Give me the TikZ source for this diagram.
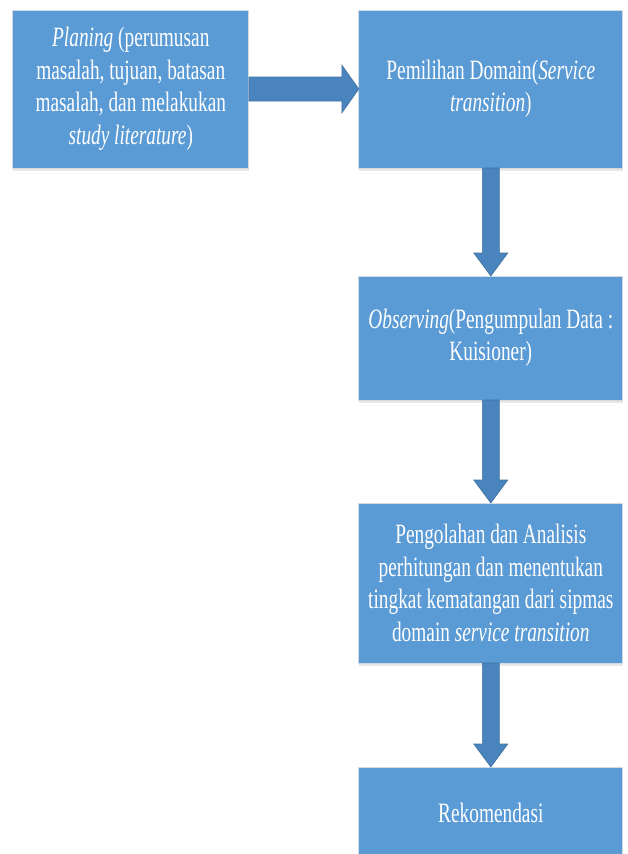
\documentclass[tikz,border=0pt]{standalone}
\usepackage{fontspec}
\setmainfont{Liberation Serif}[FakeStretch=0.69]
\usetikzlibrary{positioning,calc,shadows}
\definecolor{BoxBlue}{HTML}{5B9BD5}
\definecolor{BoxEdge}{HTML}{D2DAE2}
\definecolor{ArrowBlue}{HTML}{4A84BE}
\definecolor{ArrowEdge}{HTML}{41719C}
\tikzset{
  stepbox/.style={draw=BoxEdge,line width=1pt,fill=BoxBlue,text=white,align=center,
              minimum width=264pt,inner sep=4pt,outer sep=0pt,
              font=\fontsize{28}{32.5}\selectfont,
              drop shadow={opacity=0.18,shadow xshift=0pt,shadow yshift=-2.5pt}},
  fatarrow/.style n args={3}{draw=ArrowEdge,fill=ArrowBlue,line width=0.6pt,
    to path={($(\tikztostart)!#1!90:(\tikztotarget)$)
      -- ($($(\tikztotarget)!#3!(\tikztostart)$)!#1!90:(\tikztotarget)$)
      -- ($($(\tikztotarget)!#3!(\tikztostart)$)!#2!90:(\tikztotarget)$)
      -- (\tikztotarget)
      -- ($($(\tikztotarget)!#3!(\tikztostart)$)!#2!-90:(\tikztotarget)$)
      -- ($($(\tikztotarget)!#3!(\tikztostart)$)!#1!-90:(\tikztotarget)$)
      -- ($(\tikztostart)!#1!-90:(\tikztotarget)$) -- cycle}}
}

\begin{document}
\begin{tikzpicture}
  \useasboundingbox (0,0) rectangle (627pt,-854pt);

  \node[stepbox,anchor=north west,minimum width=236pt,minimum height=158pt] (plan) at (12.8pt,-10pt)
    {\textit{Planing} (perumusan\\masalah, tujuan, batasan\\masalah, dan melakukan\\\textit{study literature})};
  \node[stepbox,right=110pt of plan,minimum height=158pt] (domain)
    {Pemilihan Domain(\textit{Service}\\\textit{transition})};
  \node[stepbox,below=108pt of domain,minimum height=124pt] (observe)
    {\textit{Observing}(Pengumpulan Data :\\Kuisioner)};
  \node[stepbox,below=103pt of observe,minimum height=160pt] (analisis)
    {Pengolahan dan Analisis\\perhitungan dan menentukan\\tingkat kematangan dari sipmas\\domain \textit{service transition}};
  \node[stepbox,below=104pt of analisis,minimum height=92pt] (rekom) {Rekomendasi};

  \draw[fatarrow={12pt}{24pt}{17pt}] (plan.east) to (domain.west);
  \draw[fatarrow={8.5pt}{17pt}{23pt}] (domain.south) to (observe.north);
  \draw[fatarrow={8.5pt}{17pt}{23pt}] (observe.south) to (analisis.north);
  \draw[fatarrow={8.5pt}{17pt}{23pt}] (analisis.south) to (rekom.north);
\end{tikzpicture}
\end{document}
